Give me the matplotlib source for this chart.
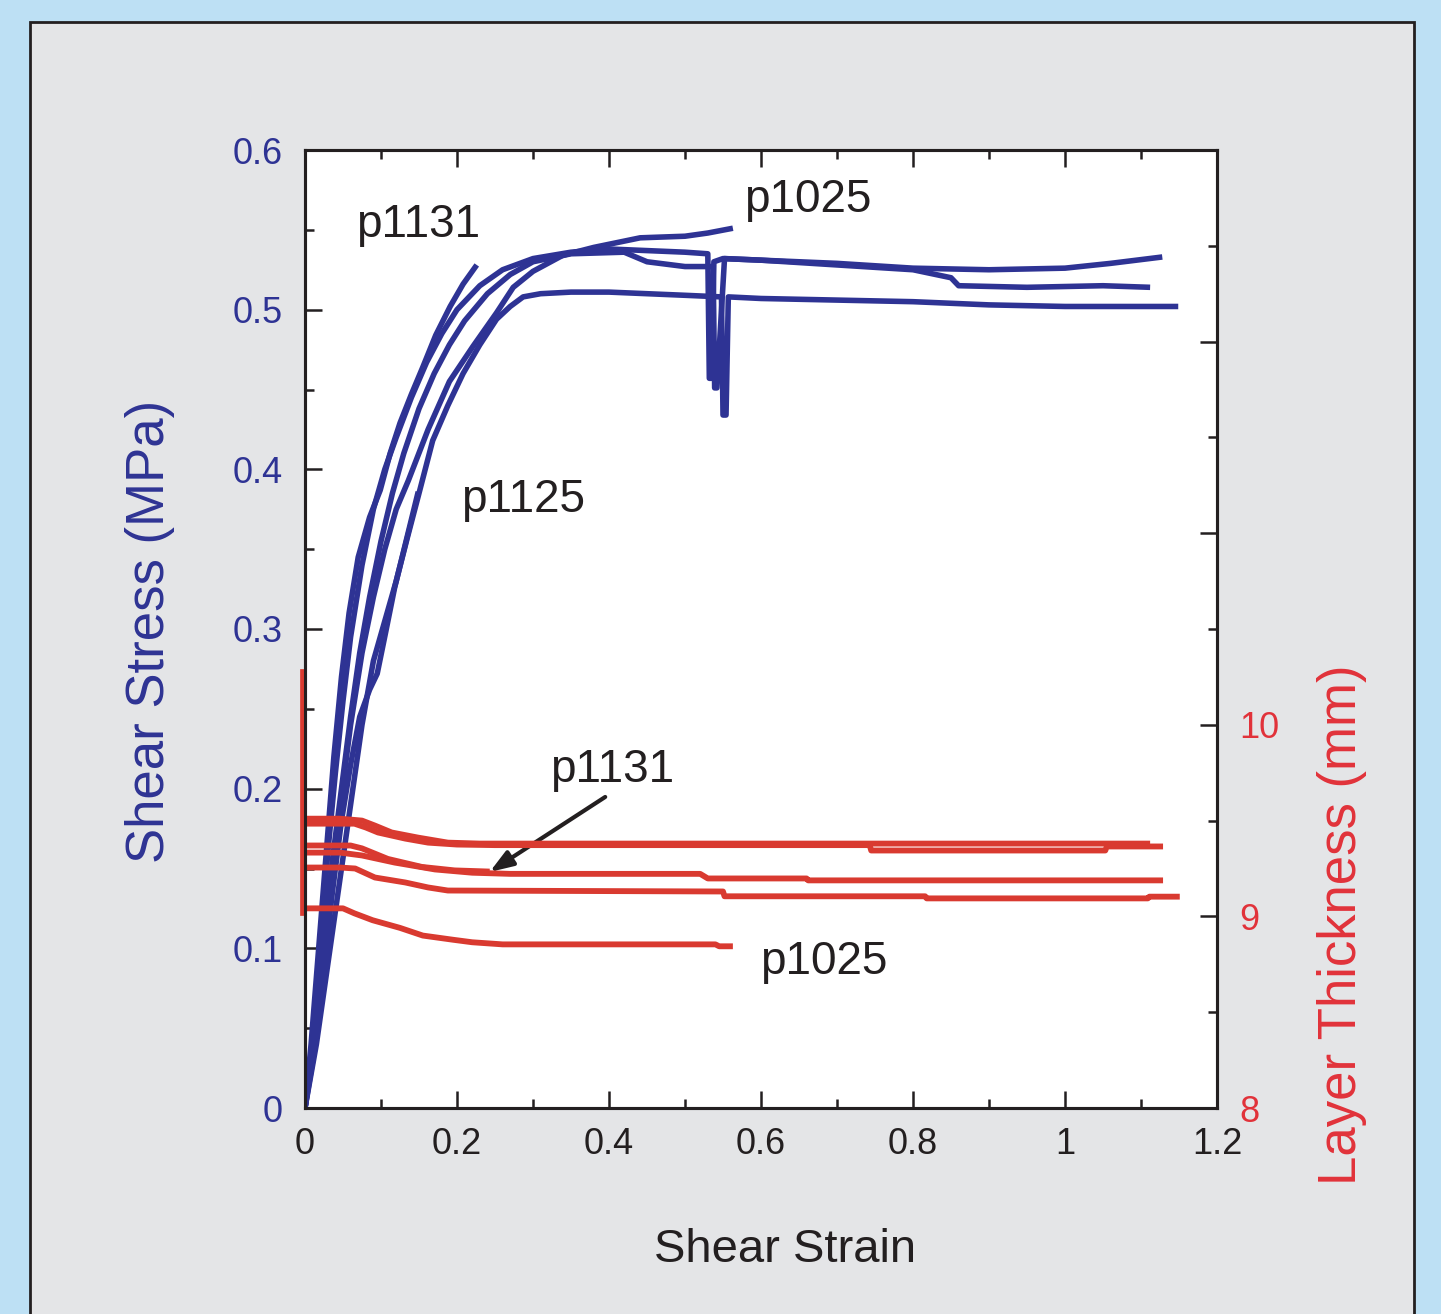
import matplotlib
matplotlib.use("Agg")
import matplotlib.pyplot as plt
from matplotlib.patches import Rectangle
from matplotlib.ticker import FixedLocator, FixedFormatter

plt.rcParams['font.family'] = ['Liberation Sans', 'DejaVu Sans']

BLUE = '#2e3394'
RED = '#d93a30'
LABEL_RED = '#e1323a'
INK = '#231f20'

# shear stress (MPa) vs shear strain, one pair of arrays per run
e_x = [0, 0.008, 0.018, 0.028, 0.038, 0.048, 0.058, 0.07, 0.085, 0.099, 0.112, 0.125, 0.14, 0.155, 0.172, 0.191, 0.208, 0.226]
e_s = [0, 0.04, 0.10, 0.16, 0.22, 0.27, 0.31, 0.345, 0.37, 0.387, 0.41, 0.429, 0.447, 0.464, 0.484, 0.502, 0.516, 0.528]

a_x = [0, 0.01, 0.02, 0.03, 0.04, 0.05, 0.06, 0.075, 0.09, 0.105, 0.12, 0.14, 0.16, 0.18, 0.2, 0.23, 0.26, 0.3, 0.35,
       0.4, 0.45, 0.5, 0.53, 0.532, 0.535, 0.538, 0.55, 0.6, 0.7, 0.8, 0.9, 1.0, 1.06, 1.128]
a_s = [0, 0.04, 0.1, 0.16, 0.21, 0.255, 0.295, 0.34, 0.375, 0.4, 0.42, 0.445, 0.467, 0.485, 0.5, 0.515, 0.525, 0.532, 0.536,
       0.538, 0.537, 0.536, 0.535, 0.457, 0.457, 0.53, 0.532, 0.531, 0.529, 0.526, 0.525, 0.526, 0.529, 0.533]

b_x = [0, 0.012, 0.024, 0.036, 0.048, 0.06, 0.072, 0.085, 0.1, 0.115, 0.13, 0.15, 0.17, 0.19, 0.21, 0.24, 0.27, 0.3, 0.35,
       0.42, 0.45, 0.5, 0.537, 0.539, 0.542, 0.552, 0.6, 0.7, 0.8, 0.85, 0.86, 0.95, 1.05, 1.112]
b_s = [0, 0.045, 0.1, 0.155, 0.2, 0.245, 0.285, 0.32, 0.355, 0.385, 0.41, 0.438, 0.46, 0.478, 0.493, 0.51, 0.522, 0.53, 0.535,
       0.536, 0.53, 0.527, 0.527, 0.451, 0.451, 0.532, 0.531, 0.528, 0.525, 0.52, 0.515, 0.514, 0.515, 0.514]

c_x = [0, 0.015, 0.03, 0.045, 0.06, 0.075, 0.09, 0.105, 0.12, 0.134, 0.15, 0.168, 0.188, 0.208, 0.23, 0.252, 0.27, 0.287,
       0.31, 0.35, 0.4, 0.45, 0.5, 0.548, 0.55, 0.554, 0.557, 0.6, 0.7, 0.8, 0.9, 1.0, 1.1, 1.149]
c_s = [0, 0.04, 0.09, 0.14, 0.19, 0.24, 0.28, 0.305, 0.33, 0.356, 0.385, 0.418, 0.44, 0.46, 0.478, 0.494, 0.502, 0.508,
       0.51, 0.511, 0.511, 0.51, 0.509, 0.508, 0.434, 0.434, 0.508, 0.507, 0.506, 0.505, 0.503, 0.502, 0.502, 0.502]

d_x = [0, 0.012, 0.024, 0.036, 0.048, 0.06, 0.075, 0.09, 0.105, 0.12, 0.136, 0.162, 0.19, 0.221, 0.252, 0.274, 0.3, 0.339,
       0.38, 0.441, 0.5, 0.53, 0.563]
d_s = [0, 0.04, 0.095, 0.15, 0.195, 0.24, 0.285, 0.32, 0.35, 0.375, 0.393, 0.425, 0.455, 0.477, 0.498, 0.514, 0.524, 0.534,
       0.539, 0.545, 0.546, 0.548, 0.551]

f_x = [0, 0.012, 0.024, 0.036, 0.048, 0.06, 0.072, 0.085, 0.095, 0.107, 0.118, 0.133, 0.149]
f_s = [0, 0.035, 0.085, 0.135, 0.18, 0.215, 0.245, 0.262, 0.272, 0.3, 0.326, 0.355, 0.386]

stress_runs = [(e_x, e_s), (a_x, a_s), (b_x, b_s), (c_x, c_s), (d_x, d_s), (f_x, f_s)]

# layer thickness (mm) vs shear strain
ra_x = [0, 0.046, 0.075, 0.092, 0.114, 0.149, 0.188, 0.23, 0.4, 0.6, 0.8, 1.0, 1.112]
ra_t = [9.51, 9.51, 9.5, 9.474, 9.438, 9.411, 9.385, 9.38, 9.38, 9.38, 9.38, 9.38, 9.38]

rb_x = [0, 0.065, 0.08, 0.096, 0.132, 0.162, 0.2, 0.25, 0.5, 0.743, 0.745, 1.053, 1.055, 1.129]
rb_t = [9.484, 9.484, 9.464, 9.438, 9.406, 9.385, 9.375, 9.372, 9.372, 9.372, 9.344, 9.344, 9.365, 9.365]

rc_x = [0, 0.06, 0.075, 0.109, 0.154, 0.197, 0.243]
rc_t = [9.37, 9.37, 9.355, 9.3, 9.258, 9.24, 9.234]

rd_x = [0, 0.046, 0.075, 0.118, 0.171, 0.22, 0.27, 0.52, 0.53, 0.66, 0.662, 1.129]
rd_t = [9.333, 9.333, 9.318, 9.281, 9.245, 9.228, 9.222, 9.222, 9.198, 9.198, 9.188, 9.188]

re_x = [0, 0.046, 0.066, 0.092, 0.132, 0.162, 0.188, 0.55, 0.552, 0.816, 0.818, 1.109, 1.111, 1.151]
re_t = [9.255, 9.255, 9.25, 9.203, 9.177, 9.151, 9.135, 9.13, 9.105, 9.105, 9.094, 9.094, 9.103, 9.103]

rf_x = [0, 0.05, 0.065, 0.089, 0.125, 0.155, 0.195, 0.22, 0.26, 0.54, 0.545, 0.563]
rf_t = [9.042, 9.042, 9.016, 8.98, 8.94, 8.90, 8.878, 8.865, 8.854, 8.854, 8.844, 8.844]

# compaction at zero strain
r0_x = [-0.004, -0.004]
r0_t = [9.016, 10.281]

thickness_runs = [(ra_x, ra_t), (rb_x, rb_t), (rc_x, rc_t), (rd_x, rd_t), (re_x, re_t), (rf_x, rf_t)]

W, H = 1441, 1314
fig = plt.figure(figsize=(W / 100, H / 100), dpi=100)
fig.patch.set_facecolor('#bde0f4')
fig.patches.append(Rectangle((30 / W, -0.02), (1414 - 30) / W, 1 - 22 / H + 0.02,
                             transform=fig.transFigure, facecolor='#e4e5e7',
                             edgecolor=INK, linewidth=2, zorder=-10))

ax = fig.add_axes([305 / W, 1 - 1108 / H, (1217 - 305) / W, (1108 - 150) / H])
ax.set_facecolor('white')
for x, s in stress_runs:
    ax.plot(x, s, color=BLUE, lw=4.0, solid_joinstyle='round', solid_capstyle='butt')
ax.set_xlim(0, 1.2)
ax.set_ylim(0, 0.6)
ax.xaxis.set_major_locator(FixedLocator([0, 0.2, 0.4, 0.6, 0.8, 1.0, 1.2]))
ax.xaxis.set_major_formatter(FixedFormatter(['0', '0.2', '0.4', '0.6', '0.8', '1', '1.2']))
ax.xaxis.set_minor_locator(FixedLocator([0.1, 0.3, 0.5, 0.7, 0.9, 1.1]))
ax.yaxis.set_major_locator(FixedLocator([0, 0.1, 0.2, 0.3, 0.4, 0.5, 0.6]))
ax.yaxis.set_major_formatter(FixedFormatter(['0', '0.1', '0.2', '0.3', '0.4', '0.5', '0.6']))
ax.yaxis.set_minor_locator(FixedLocator([0.05, 0.15, 0.25, 0.35, 0.45, 0.55]))
ax.tick_params(which='both', direction='in', top=True, right=False, width=1.8, color=INK)
ax.tick_params(which='major', length=12)
ax.tick_params(which='minor', length=6.5)
ax.tick_params(axis='x', labelsize=26, pad=14, labelcolor=INK)
ax.tick_params(axis='y', labelsize=26, pad=16, labelcolor=BLUE)
for sp in ax.spines.values():
    sp.set_linewidth(2.2)
    sp.set_color(INK)

ax2 = ax.twinx()
for x, t in thickness_runs:
    ax2.plot(x, t, color=RED, lw=4.2, solid_capstyle='butt')
ax2.plot(r0_x, r0_t, color=RED, lw=3.4, clip_on=False)
ax2.set_ylim(8, 13)
ax2.yaxis.set_major_locator(FixedLocator([8, 9, 10, 11, 12]))
ax2.yaxis.set_major_formatter(FixedFormatter(['8', '9', '10', '', '']))
ax2.yaxis.set_minor_locator(FixedLocator([8.5, 9.5, 10.5, 11.5, 12.5]))
ax2.tick_params(which='both', direction='in', width=1.8, color=INK)
ax2.tick_params(which='major', length=12, labelsize=26, pad=16, labelcolor=LABEL_RED)
ax2.tick_params(which='minor', length=6.5)
for sp in ax2.spines.values():
    sp.set_linewidth(2.2)
    sp.set_color(INK)

# run labels
ax.text(0.149, 0.553, 'p1131', fontsize=33, color=INK, ha='center', va='center')
ax.text(0.662, 0.5687, 'p1025', fontsize=33, color=INK, ha='center', va='center')
ax.text(0.287, 0.381, 'p1125', fontsize=33, color=INK, ha='center', va='center')
ax.text(0.404, 0.2117, 'p1131', fontsize=33, color=INK, ha='center', va='center')
ax.text(0.683, 0.0914, 'p1025', fontsize=33, color=INK, ha='center', va='center')
ax.annotate('', xy=(0.243, 0.1478), xytext=(0.395, 0.1948),
            arrowprops=dict(arrowstyle='-|>,head_length=1.4,head_width=0.5',
                            color=INK, lw=3, shrinkA=0, shrinkB=0))

fig.text(150 / W, 1 - 631 / H, 'Shear Stress (MPa)', rotation=90, fontsize=38,
         color=BLUE, ha='center', va='center')
fig.text(1342 / W, 1 - 925 / H, 'Layer Thickness (mm)', rotation=90, fontsize=38,
         color=LABEL_RED, ha='center', va='center')
fig.text(785 / W, 1 - 1250 / H, 'Shear Strain', fontsize=34, color=INK,
         ha='center', va='center')

fig.savefig('out.png', dpi=100, facecolor=fig.get_facecolor())
